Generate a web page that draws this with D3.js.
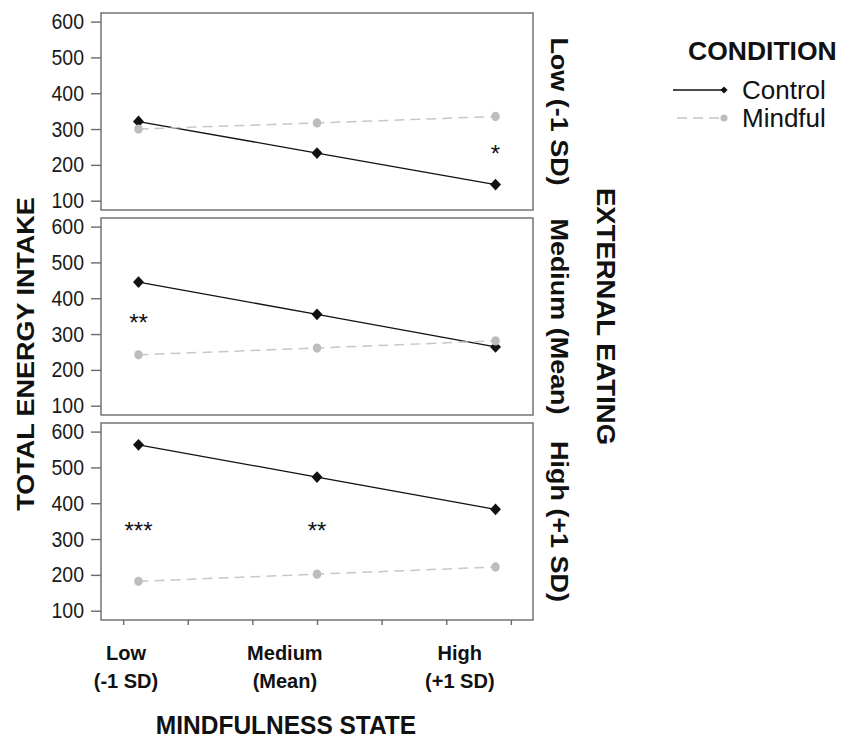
<!DOCTYPE html>
<html lang="en">
<head>
<meta charset="UTF-8">
<title>Total energy intake by mindfulness state and external eating</title>
<script src="https://d3js.org/d3.v7.min.js"></script>
<style>
  body { margin: 0; background: #fff; }
  svg { display: block; font-family: "Liberation Sans", Arial, sans-serif; }
</style>
</head>
<body>
<svg width="858" height="740"></svg>
<script>
// Values
const facetNames = ["Low (-1 SD)", "Medium (Mean)", "High (+1 SD)"];
const mindLevels = [-1, 0, 1];                 // mindfulness state, SD units
const levelNames = ["Low", "Medium", "High"];
const levelSubNames = ["(-1 SD)", "(Mean)", "(+1 SD)"];
const levelLabelPos = [-1.07, -0.18, 0.80];    // where the category text sits
const controlValues = [[321, 233, 145], [445, 355, 264], [563, 473, 383]];
const mindfulValues = [[300, 317, 335], [242, 261, 281], [182, 202, 222]];
const yTicks = [100, 200, 300, 400, 500, 600];
const xTicks = [-1.086, -0.724, -0.362, 0, 0.362, 0.724, 1.086];
const sigFacet = [0, 1, 2, 2];
const sigLevel = [1, -1, -1, 0];
const sigValue = [245, 347, 337, 337];
const sigMarks = ["*", "**", "***", "**"];
const conditions = ["Control", "Mindful"];

const svg = d3.select("svg");

// Plot area
const left = 101, right = 533;
const panelTop = 13, panelH = 197, panelGap = 8;
const boxColor = "#6a6a6a";
const ctrlColor = "#111";
const mindColor = "#bdbdbd";

const x = d3.scaleLinear().domain([-1.21, 1.21]).range([left, right]);
const y = d3.scaleLinear().domain([74, 624]).range([panelH, 0]);

const line = d3.line()
    .x((d, i) => x(mindLevels[i]))
    .y(d => y(d));

const diamond = d3.symbol(d3.symbolSquare, 60);
const dot = d3.symbol(d3.symbolCircle, 58);

facetNames.forEach((name, p) => {
    const top = panelTop + p * (panelH + panelGap);
    const g = svg.append("g").attr("transform", `translate(0,${top})`);

    // frame
    g.append("rect")
        .attr("x", left).attr("y", 0)
        .attr("width", right - left).attr("height", panelH)
        .attr("fill", "none")
        .attr("stroke", boxColor)
        .attr("stroke-width", 1.4);

    // y axis
    const ya = g.append("g")
        .attr("transform", `translate(${left},0)`)
        .call(d3.axisLeft(y).tickValues(yTicks).tickSize(10).tickPadding(7));
    ya.attr("font-family", null).attr("font-size", 19.5);
    ya.select(".domain").remove();
    ya.selectAll("line").attr("stroke", boxColor).attr("stroke-width", 1.4);
    ya.selectAll("text").attr("fill", "#1a1a1a").attr("transform", "scale(1,1.12)");

    // Control
    g.append("path")
        .datum(controlValues[p])
        .attr("d", line)
        .attr("fill", "none")
        .attr("stroke", ctrlColor)
        .attr("stroke-width", 1.3);

    // Mindful
    g.append("path")
        .datum(mindfulValues[p])
        .attr("d", line)
        .attr("fill", "none")
        .attr("stroke", "#c8c8c8")
        .attr("stroke-width", 1.5)
        .attr("stroke-dasharray", "10,6");

    g.selectAll("path.ctrl")
        .data(controlValues[p])
        .join("path")
        .attr("class", "ctrl")
        .attr("d", diamond)
        .attr("fill", ctrlColor)
        .attr("transform", (d, i) => `translate(${x(mindLevels[i])},${y(d)}) scale(1,1.08) rotate(45)`);

    g.selectAll("path.mind")
        .data(mindfulValues[p])
        .join("path")
        .attr("class", "mind")
        .attr("d", dot)
        .attr("fill", mindColor)
        .attr("transform", (d, i) => `translate(${x(mindLevels[i])},${y(d)}) scale(1,1.08)`);

    // significance marks
    const sig = sigFacet.map((f, i) => i).filter(i => sigFacet[i] === p);
    g.selectAll("text.sig")
        .data(sig)
        .join("text")
        .attr("class", "sig")
        .attr("x", i => x(sigLevel[i]))
        .attr("y", i => y(sigValue[i]))
        .attr("dy", "0.57em")
        .attr("text-anchor", "middle")
        .attr("font-size", 24)
        .attr("fill", "#111")
        .text(i => sigMarks[i]);

    // facet label on the right
    svg.append("text")
        .attr("transform", `translate(560,${top + panelH / 2}) rotate(90) scale(1.1,1)`)
        .attr("text-anchor", "middle")
        .attr("dy", "0.36em")
        .attr("font-size", 24.5)
        .attr("font-weight", "bold")
        .attr("fill", "#111")
        .text(name);
});

const plotBottom = panelTop + 3 * panelH + 2 * panelGap;

// x ticks under the bottom panel
const xa = svg.append("g")
    .attr("transform", `translate(0,${plotBottom})`)
    .call(d3.axisBottom(x).tickValues(xTicks).tickSize(5).tickFormat(""));
xa.select(".domain").remove();
xa.selectAll("line").attr("stroke", boxColor).attr("stroke-width", 1.4);

// category labels
levelNames.forEach((name, i) => {
    svg.append("text")
        .attr("transform", `translate(${x(levelLabelPos[i])},${plotBottom + 40}) scale(1,1.05)`)
        .attr("text-anchor", "middle")
        .attr("font-size", 20)
        .attr("font-weight", "bold")
        .attr("fill", "#111")
        .text(name);
    svg.append("text")
        .attr("transform", `translate(${x(levelLabelPos[i])},${plotBottom + 68}) scale(1,1.05)`)
        .attr("text-anchor", "middle")
        .attr("font-size", 20)
        .attr("font-weight", "bold")
        .attr("fill", "#111")
        .text(levelSubNames[i]);
});

// axis titles
svg.append("text")
    .attr("transform", `translate(286,734) scale(1,1.06)`)
    .attr("text-anchor", "middle")
    .attr("font-size", 24.5)
    .attr("font-weight", "bold")
    .attr("fill", "#111")
    .text("MINDFULNESS STATE");

svg.append("text")
    .attr("transform", `translate(25,354) rotate(-90) scale(1.1,1)`)
    .attr("text-anchor", "middle")
    .attr("dy", "0.36em")
    .attr("font-size", 24.5)
    .attr("font-weight", "bold")
    .attr("fill", "#111")
    .text("TOTAL ENERGY INTAKE");

svg.append("text")
    .attr("transform", `translate(606,${panelTop + 1.5 * panelH + panelGap}) rotate(90) scale(1.1,1)`)
    .attr("text-anchor", "middle")
    .attr("dy", "0.36em")
    .attr("font-size", 25)
    .attr("font-weight", "bold")
    .attr("fill", "#111")
    .text("EXTERNAL EATING");

// legend
const legend = svg.append("g").attr("transform", "translate(673,0)");
legend.append("text")
    .attr("x", 15).attr("y", 60)
    .attr("font-size", 26.5)
    .attr("font-weight", "bold")
    .attr("fill", "#111")
    .text("CONDITION");

const legendY = [90, 118];
conditions.forEach((c, i) => {
    const row = legend.append("g").attr("transform", `translate(0,${legendY[i]})`);
    row.append("line")
        .attr("x1", i === 0 ? 0 : 4).attr("x2", 50)
        .attr("stroke", i === 0 ? ctrlColor : "#c8c8c8")
        .attr("stroke-width", i === 0 ? 1.3 : 1.5)
        .attr("stroke-dasharray", i === 0 ? null : "10,6");
    row.append("path")
        .attr("d", i === 0 ? d3.symbol(d3.symbolSquare, 26)() : d3.symbol(d3.symbolCircle, 40)())
        .attr("fill", i === 0 ? ctrlColor : mindColor)
        .attr("transform", i === 0 ? "translate(51,0) rotate(45)" : "translate(51,0)");
    row.append("text")
        .attr("x", 69)
        .attr("dy", "0.36em")
        .attr("font-size", 26)
        .attr("fill", "#111")
        .text(c);
});
</script>
</body>
</html>
